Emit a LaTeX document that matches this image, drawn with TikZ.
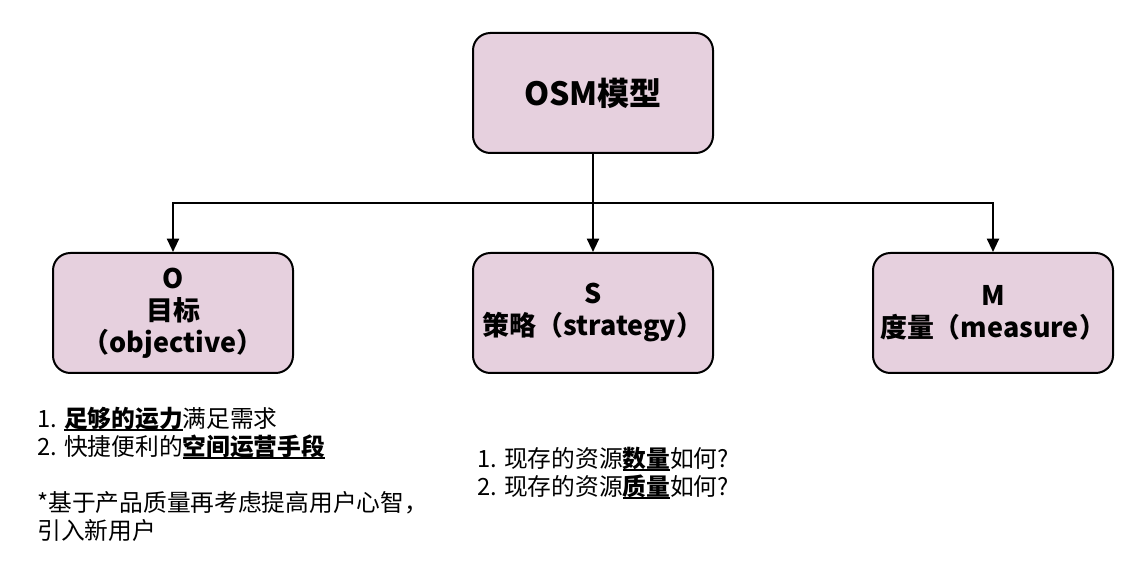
\documentclass[tikz,border=0pt]{standalone}
\usepackage{fontspec}
\setmainfont{Noto Sans CJK SC}
\usetikzlibrary{arrows.meta, positioning}
\definecolor{osmfill}{HTML}{E6D0DE}
% bold text with a thick underline
\newcommand{\keyword}[1]{\setbox0\hbox{\textbf{#1}}\rlap{\rule[-3pt]{\wd0}{1.4pt}}\box0}

\begin{document}
\begin{tikzpicture}[
    x=0.75pt, y=-0.75pt,
    box/.style={rectangle, rounded corners=13pt, draw, line width=1.5pt, fill=osmfill, minimum width=180pt, minimum height=90pt, align=center, font=\fontsize{20.2}{24}\selectfont\bfseries},
    note/.style={anchor=base west, align=left, inner sep=0pt, font=\fontsize{17.8}{21}\selectfont},
    arrow/.style={-{Triangle[length=10pt, width=9pt]}, line width=1.5pt}
]
    \useasboundingbox (0,0) rectangle (1146,584);

    \node[box, font=\fontsize{24}{28}\selectfont\bfseries] (osm) at (593,93) {OSM模型};
    \node[box] (obj) at (173,313) {O\\目标\\（objective）};
    \node[box] (strat) at (593,313) {S\\策略（strategy）};
    \node[box] (meas) at (993,313) {M\\度量（measure）};
    \coordinate (split) at (593,203);

    \draw[arrow] (osm) -- (strat);
    \draw[arrow] (split) -| (obj);
    \draw[arrow] (split) -| (meas);

    % anchor is the baseline of the last line
    \node[note] (objnote) at (37,539) {1. \keyword{足够的运力}满足需求\\2. 快捷便利的\keyword{空间运营手段}\\[21pt]*基于产品质量再考虑提高用户心智，\\引入新用户};
    \node[note] (stratnote) at (477,495) {1. 现存的资源\keyword{数量}如何?\\2. 现存的资源\keyword{质量}如何?};
\end{tikzpicture}
\end{document}
